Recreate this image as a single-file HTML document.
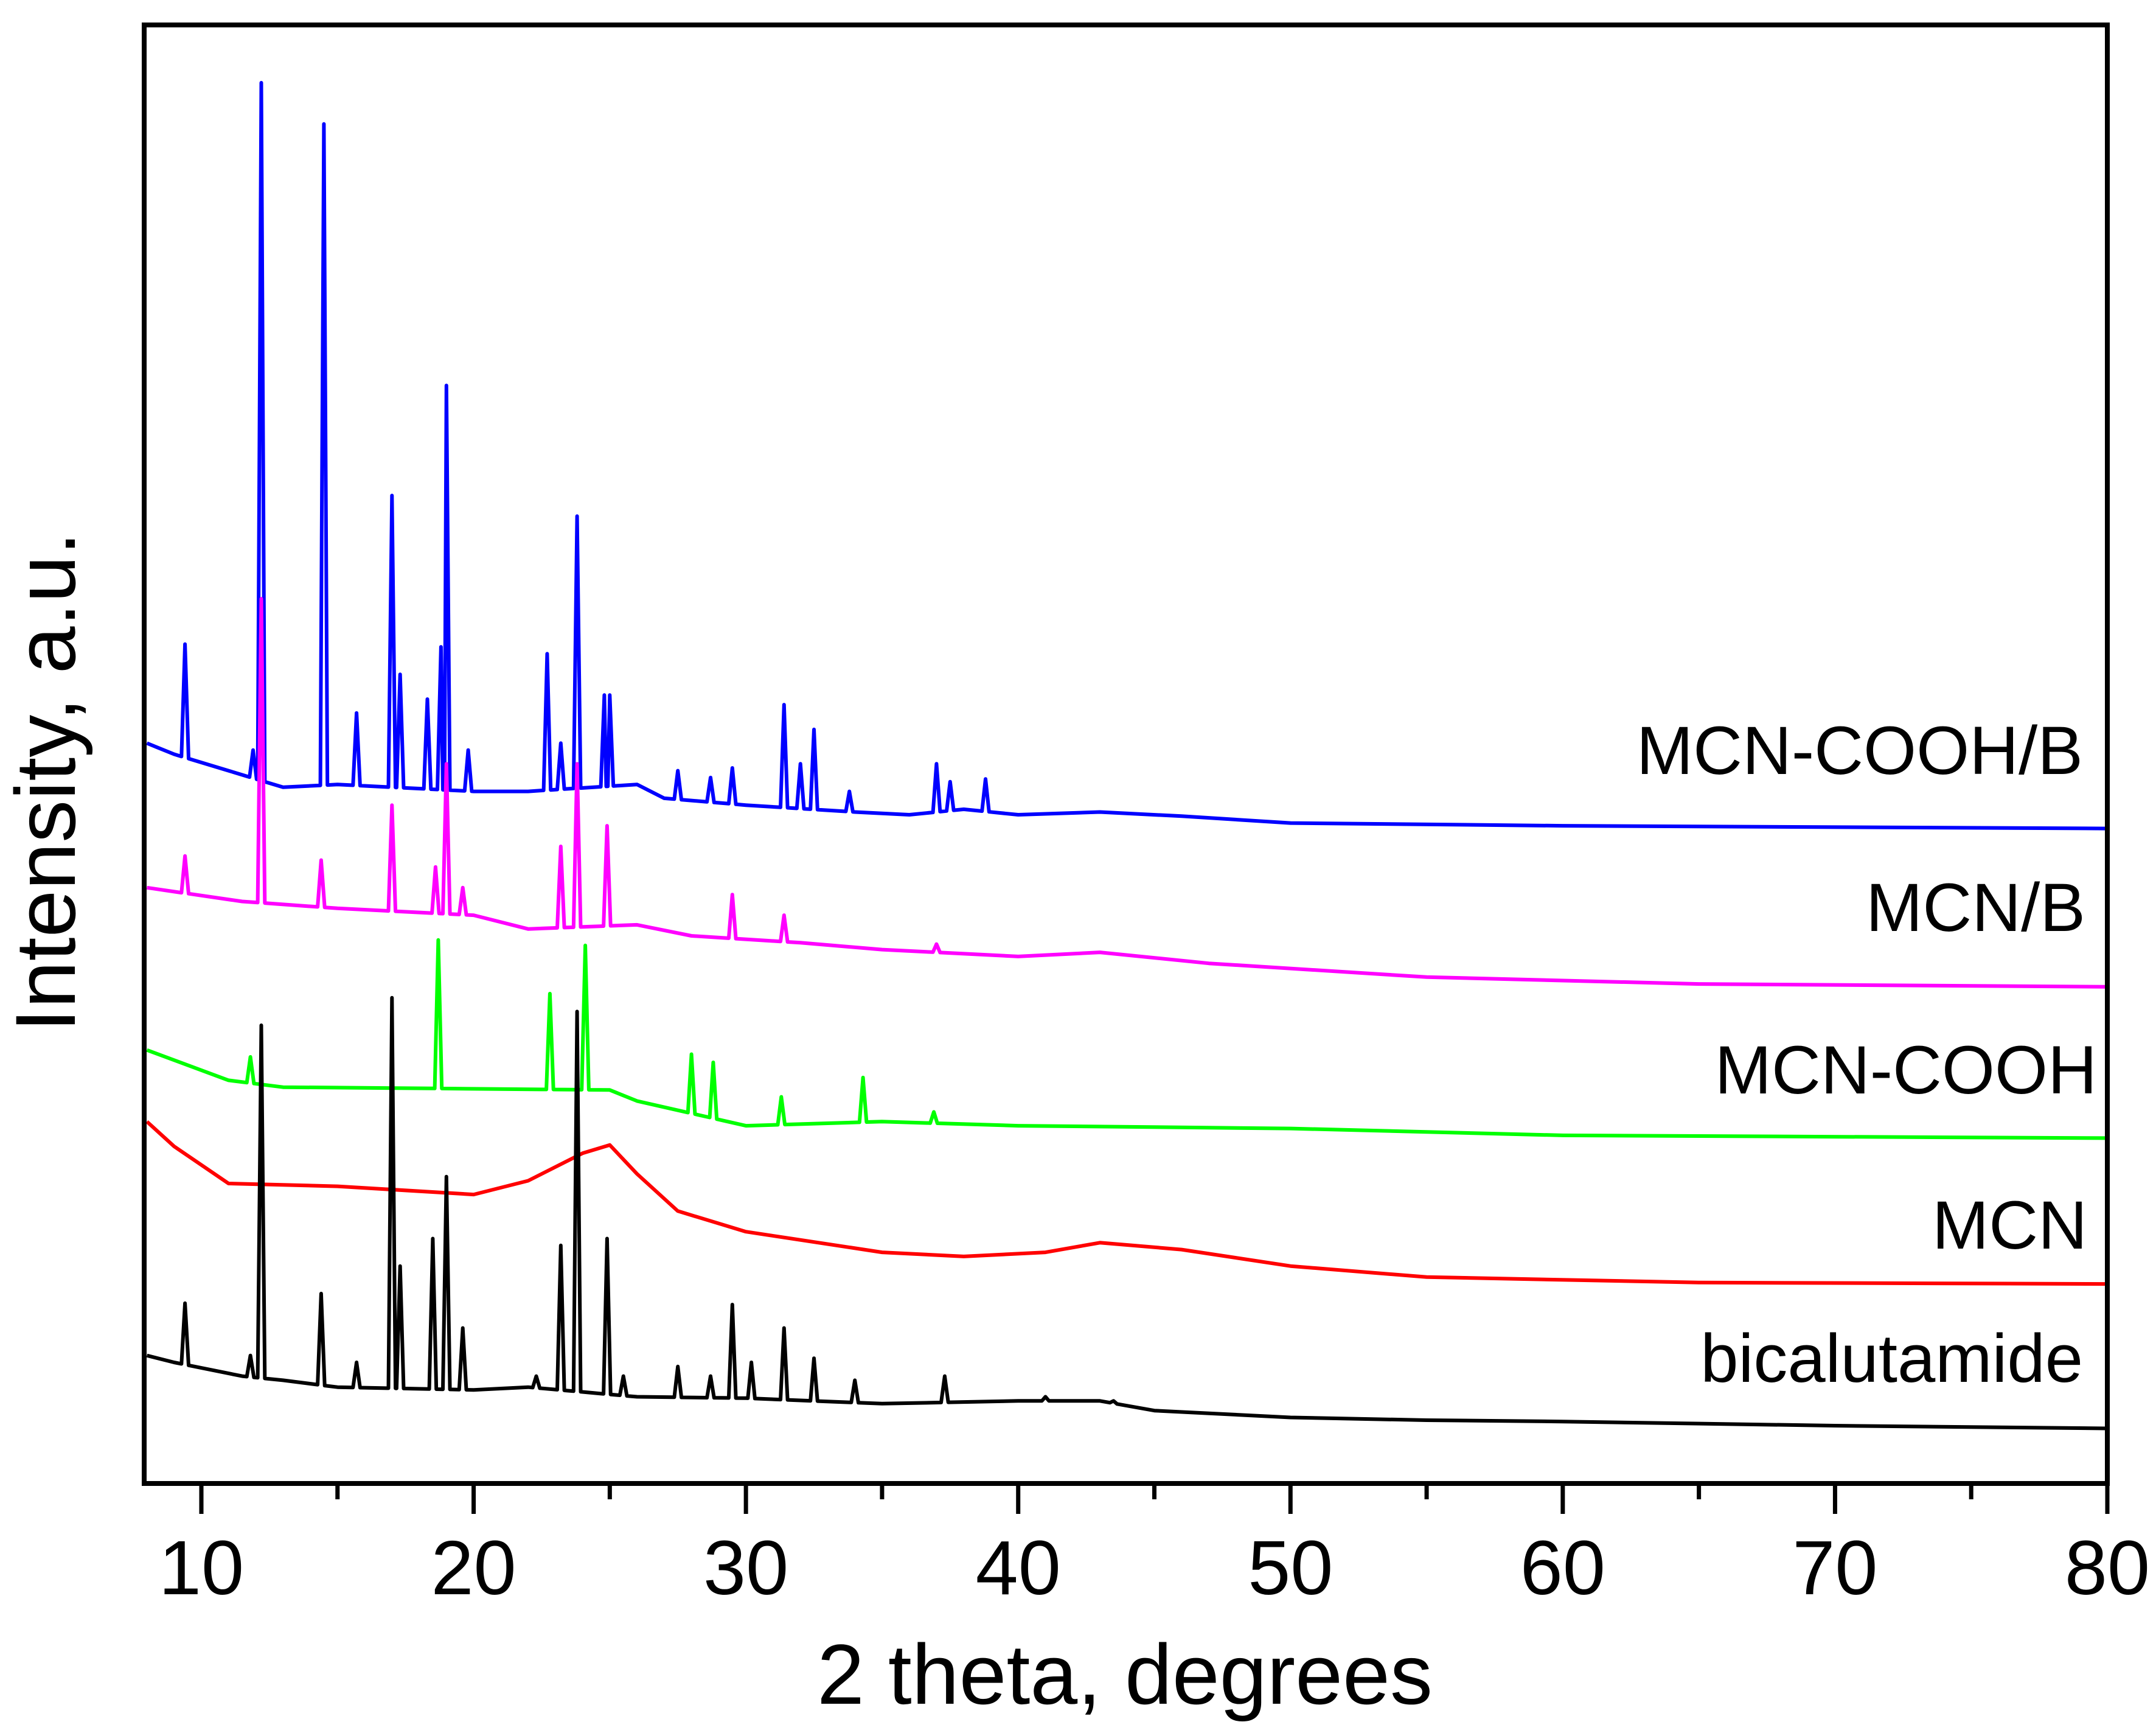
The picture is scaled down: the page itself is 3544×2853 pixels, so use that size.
<!DOCTYPE html>
<html><head><meta charset="utf-8"><style>
html,body{margin:0;padding:0;background:#fff;}
svg{display:block;font-family:"Liberation Sans",Arial,sans-serif;}
</style></head><body>
<svg id="chart" width="3544" height="2853" viewBox="0 0 3544 2853" xmlns="http://www.w3.org/2000/svg">
<rect width="3544" height="2853" fill="#fff"/>
<g id="series"></g>
<g id="axes"></g>
<text x="1849" y="2800" font-size="140" text-anchor="middle">2 theta, degrees</text>
<text transform="translate(123,1285) rotate(-90)" font-size="140" text-anchor="middle">Intensity, a.u.</text>
<text x="3424" y="1272" font-size="112" text-anchor="end">MCN-COOH/B</text>
<text x="3428" y="1530" font-size="112" text-anchor="end">MCN/B</text>
<text x="3447" y="1797" font-size="112" text-anchor="end">MCN-COOH</text>
<text x="3431" y="2052" font-size="112" text-anchor="end">MCN</text>
<text x="3424" y="2271" font-size="112" text-anchor="end">bicalutamide</text>
</svg>
<script>
const xTicks = [10,20,30,40,50,60,70,80];
const xMinorTicks = [15,25,35,45,55,65,75];

const blackBg = [[8,93],[9,88],[11.5,78],[13,75],[15,70],[20,68],[22,70],[26,63],[30,62],[35,58],[40,60],[43,60],[45,53],[50,48],[55,46],[60,45],[70,42],[80,40]];
const blackPeaks = [[9.4,131],[11.8,93],[12.2,333],[14.4,138],[15.7,88],[17.0,353],[17.3,158],[18.5,178],[19.0,223],[19.6,113],[22.3,78],[23.2,173],[23.8,343],[24.9,178],[25.5,78],[27.5,85],[28.7,78],[29.5,130],[30.2,88],[31.4,113],[32.5,91],[34,75],[37.3,78],[41,63],[43.5,60]];
const redBg = [[8,263],[9,245],[11,218],[15,216],[20,210],[22,220],[24,240],[25,246],[26,225],[27.5,198],[30,183],[35,168],[38,165],[41,168],[43,175],[46,170],[50,158],[55,150],[65,146],[80,145]];
const redPeaks = [];
const greenBg = [[8,315],[11,293],[13,288],[25,286],[26,278],[30,260],[35,263],[40,260],[50,258],[60,253],[80,251]];
const greenPeaks = [[11.8,310],[18.7,395],[22.8,356],[24.1,391],[28.0,312],[28.8,306],[31.3,281],[34.3,295],[36.9,270]];
const magentaBg = [[8,433],[11.5,423],[15,418],[20,413],[22,403],[26,406],[28,398],[32,393],[35,388],[40,383],[43,386],[47,378],[55,368],[65,363],[80,361]];
const magentaPeaks = [[9.4,456],[12.2,643],[14.4,453],[17.0,493],[18.6,448],[19.0,523],[19.6,433],[23.2,463],[23.8,523],[24.9,478],[29.5,428],[31.4,413],[37,392]];
const blueBg = [[8,538],[9,530],[11,518],[13,506],[15,508],[20,503],[22,503],[26,508],[27,498],[30,493],[34,488],[36,486],[38,490],[40,486],[43,488],[46,485],[50,480],[60,478],[80,476]];
const bluePeaks = [[9.4,610],[11.9,533],[12.2,1018],[14.5,988],[15.7,560],[17.0,718],[17.3,588],[18.3,570],[18.8,608],[19.0,798],[19.8,533],[22.7,603],[23.2,538],[23.8,703],[24.8,573],[25.0,573],[27.5,518],[28.7,513],[29.5,520],[31.4,566],[32.0,523],[32.5,548],[33.8,503],[37.0,523],[37.5,510],[38.8,512]];

const L=237,R=3464,T=41,B=2438, XMIN=7.9, XMAX=80, YMIN=0, YMAX=1060;
function sx(v){return L+(v-XMIN)/(XMAX-XMIN)*(R-L);}
function sy(v){return B-(v-YMIN)/(YMAX-YMIN)*(B-T);}
function bgAt(bg,x){for(let i=0;i<bg.length-1;i++){if(x>=bg[i][0]&&x<=bg[i+1][0]){const t=(x-bg[i][0])/(bg[i+1][0]-bg[i][0]);return bg[i][1]+t*(bg[i+1][1]-bg[i][1]);}}return bg[bg.length-1][1];}
const NS='http://www.w3.org/2000/svg';
const seriesG=document.getElementById('series');
function drawSeries(name,color,bg,peaks){
  let pts=bg.map(p=>[p[0],p[1]]);
  const hw=0.13;
  peaks.forEach(p=>{pts.push([p[0]-hw,bgAt(bg,p[0]-hw)]);pts.push([p[0],p[1]]);pts.push([p[0]+hw,bgAt(bg,p[0]+hw)]);});
  pts.sort((a,b)=>a[0]-b[0]);
  const d=pts.map((p,i)=>(i?'L':'M')+sx(p[0]).toFixed(1)+','+sy(p[1]).toFixed(1)).join(' ');
  const path=document.createElementNS(NS,'path');
  path.setAttribute('d',d);path.setAttribute('fill','none');path.setAttribute('stroke',color);
  path.setAttribute('stroke-width','6');path.setAttribute('stroke-linejoin','round');
  
  
  seriesG.appendChild(path);
}
drawSeries('series-mcn-cooh-b','#0000ff',blueBg,bluePeaks);
drawSeries('series-mcn-b','#ff00ff',magentaBg,magentaPeaks);
drawSeries('series-mcn-cooh','#00ff00',greenBg,greenPeaks);
drawSeries('series-mcn','#ff0000',redBg,redPeaks);
drawSeries('series-bicalutamide','#000000',blackBg,blackPeaks);

const axes=document.getElementById('axes');
const frame=document.createElementNS(NS,'rect');
frame.setAttribute('x',L);frame.setAttribute('y',T);frame.setAttribute('width',R-L);frame.setAttribute('height',B-T);
frame.setAttribute('fill','none');frame.setAttribute('stroke','#000');frame.setAttribute('stroke-width','8');


axes.appendChild(frame);
xTicks.forEach(v=>{
  const ln=document.createElementNS(NS,'line');
  ln.setAttribute('x1',sx(v));ln.setAttribute('x2',sx(v));ln.setAttribute('y1',B);ln.setAttribute('y2',B+50);
  ln.setAttribute('stroke','#000');ln.setAttribute('stroke-width','7');
  
  
  axes.appendChild(ln);
  const tx=document.createElementNS(NS,'text');
  tx.setAttribute('x',sx(v));tx.setAttribute('y',2620);tx.setAttribute('font-size','126');tx.setAttribute('text-anchor','middle');
  tx.textContent=v;
  
  
  axes.appendChild(tx);
});
xMinorTicks.forEach(v=>{
  const ln=document.createElementNS(NS,'line');
  ln.setAttribute('x1',sx(v));ln.setAttribute('x2',sx(v));ln.setAttribute('y1',B);ln.setAttribute('y2',B+26);
  ln.setAttribute('stroke','#000');ln.setAttribute('stroke-width','7');
  
  
  axes.appendChild(ln);
});
</script>
</body></html>
